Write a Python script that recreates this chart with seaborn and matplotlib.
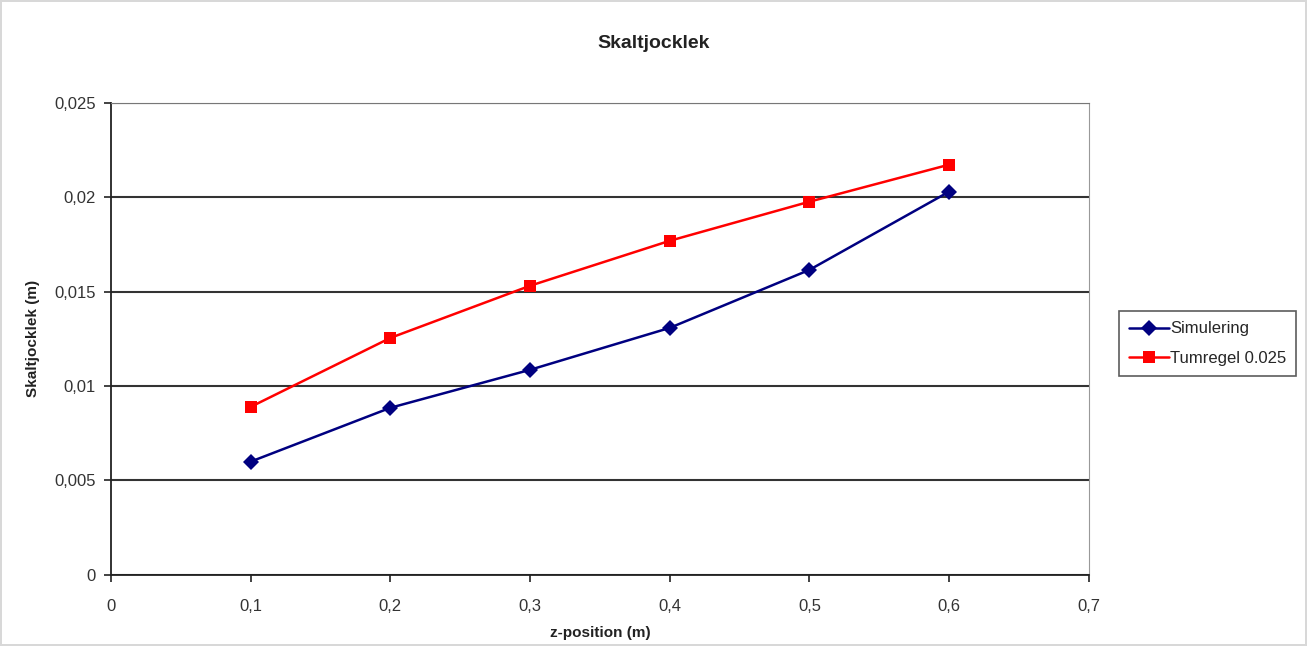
import numpy as np
import pandas as pd
import matplotlib
matplotlib.use("Agg")
import matplotlib.pyplot as plt
import seaborn as sns
from matplotlib.ticker import MultipleLocator, FuncFormatter

z_pos = [0.1, 0.2, 0.3, 0.4, 0.5, 0.6]
simulering = [0.0060, 0.00885, 0.01086, 0.01308, 0.01615, 0.02029]
tumregel = [0.0089, 0.01255, 0.01531, 0.01769, 0.01976, 0.02172]

sns.set_style("white")
plt.rcParams['font.family'] = ['Liberation Sans', 'DejaVu Sans']

df = pd.DataFrame({
    "z": z_pos * 2,
    "t": simulering + tumregel,
    "serie": ["Simulering"] * len(z_pos) + ["Tumregel 0.025"] * len(z_pos),
})

fig = plt.figure(figsize=(13.07, 6.46), dpi=100)
fig.patch.set_edgecolor("#d8d8d8")
fig.patch.set_linewidth(1.5)
ax = fig.add_axes([0.085, 0.110, 0.748, 0.731])

sns.lineplot(data=df, x="z", y="t", hue="serie", style="serie",
             palette={"Simulering": "#000080", "Tumregel 0.025": "#ff0000"},
             markers={"Simulering": "D", "Tumregel 0.025": "s"},
             dashes=False, markersize=8, linewidth=1.8,
             markeredgewidth=0, ax=ax)

ax.set_xlim(0, 0.7)
ax.set_ylim(0, 0.025)
ax.xaxis.set_major_locator(MultipleLocator(0.1))
ax.yaxis.set_major_locator(MultipleLocator(0.005))
comma = FuncFormatter(lambda v, p: ("%g" % round(v, 4)).replace(".", ","))
ax.xaxis.set_major_formatter(comma)
ax.yaxis.set_major_formatter(comma)

ax.yaxis.grid(True, color="#333333", linewidth=1.5)
ax.set_axisbelow(True)
for s in ["left", "bottom"]:
    ax.spines[s].set_color("#222222")
    ax.spines[s].set_linewidth(1.3)
ax.spines["top"].set_color("#777777")
ax.spines["right"].set_color("#999999")
ax.tick_params(axis="both", direction="out", length=5, width=1.2,
               color="#222222", labelsize=12, labelcolor="#333333",
               left=True, bottom=True)
ax.tick_params(axis="x", pad=12)
ax.tick_params(axis="y", pad=6)

ax.set_xlabel("z-position (m)", fontsize=11, fontweight="bold", color="#222222", labelpad=9)
ax.set_ylabel("Skaltjocklek (m)", fontsize=11, fontweight="bold", color="#222222", labelpad=10)
fig.text(0.5, 0.925, "Skaltjocklek", ha="center", fontsize=14, fontweight="bold", color="#222222")

leg = ax.legend(title=None, loc="center left", bbox_to_anchor=(1.022, 0.49),
                frameon=True, fancybox=False, fontsize=12, borderpad=0.6,
                handlelength=2.4, handletextpad=0.1, labelspacing=0.85)
leg.get_frame().set_edgecolor("#333333")
leg.get_frame().set_linewidth(1.2)

plt.savefig("out.png", dpi=100)
